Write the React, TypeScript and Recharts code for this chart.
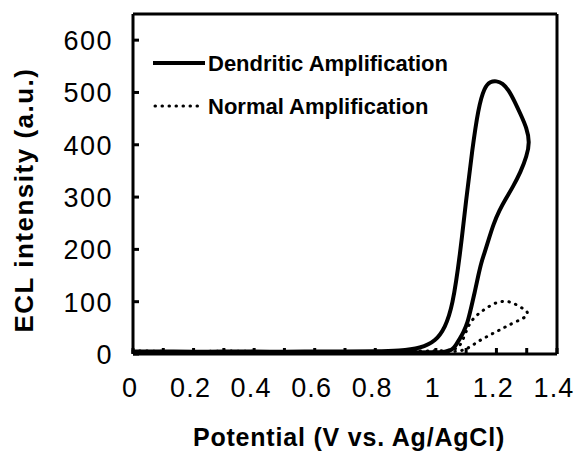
import { LineChart, Line, XAxis, YAxis, ReferenceLine, Legend, Label } from 'recharts'

// ECL intensity vs potential, two cyclic scans (points in scan order)
const dendriticV = [0, 0.1, 0.2, 0.3, 0.4, 0.5, 0.6, 0.7, 0.8, 0.88, 0.95, 1.0, 1.03, 1.055, 1.08, 1.1, 1.12, 1.14, 1.16, 1.18, 1.2, 1.22, 1.24, 1.26, 1.28, 1.3, 1.31, 1.3, 1.28, 1.254, 1.23, 1.21, 1.19, 1.175, 1.16, 1.15, 1.14, 1.128, 1.115, 1.105, 1.09, 1.08, 1.065, 1.055, 1.03, 1.0, 0.9, 0.8, 0.6, 0.4, 0.2, 0]
const dendriticI = [5, 5, 4, 5, 5, 4, 5, 5, 5, 6, 11, 25, 50, 90, 190, 295, 390, 470, 510, 521, 522, 518, 505, 483, 458, 432, 405, 378, 348, 319, 296, 275, 248, 220, 192, 175, 150, 117, 85, 60, 40, 30, 16, 8, 4, 3, 3, 3, 3, 3, 3, 3]

const normalV = [0, 0.1, 0.2, 0.3, 0.4, 0.5, 0.6, 0.7, 0.8, 0.9, 1.0, 1.06, 1.08, 1.095, 1.11, 1.13, 1.15, 1.17, 1.19, 1.21, 1.23, 1.25, 1.27, 1.29, 1.305, 1.3, 1.28, 1.254, 1.23, 1.211, 1.19, 1.168, 1.145, 1.125, 1.105, 1.085, 1.05, 0.9, 0.6, 0.3, 0]
const normalI = [6, 5, 4, 6, 5, 4, 5, 5, 5, 5, 6, 7, 15, 35, 58, 72, 81, 89, 96, 100, 101, 99, 93, 86, 80, 72, 66, 59, 52, 46, 40, 33, 26, 18, 11, 6, 4, 4, 4, 4, 4]

const xTicks = [0, 0.1, 0.2, 0.3, 0.4, 0.5, 0.6, 0.7, 0.8, 0.9, 1.0, 1.1, 1.2, 1.3, 1.4]
const yTicks = [0, 100, 200, 300, 400, 500, 600]

const seriesNames = ['Dendritic Amplification', 'Normal Amplification']

const dendritic = dendriticV.map((v, i) => ({ v, i: dendriticI[i] }))
const normal = normalV.map((v, i) => ({ v, i: normalI[i] }))

const FONT = '"Liberation Sans", Arial, sans-serif'

const YTick = ({ x, y, payload }: any) => (
  <g>
    <line x1={x} y1={y} x2={x + 6} y2={y} stroke="#000" strokeWidth={3} />
    <text x={x - 20} y={y + 10} textAnchor="end" fontSize={27} letterSpacing={1.5} fontFamily={FONT} fill="#000">
      {payload.value}
    </text>
  </g>
)

const XTick = ({ x, y, payload, index }: any) => (
  <g>
    <line x1={x} y1={y} x2={x} y2={y - 6} stroke="#000" strokeWidth={3} />
    {index % 2 === 0 && (
      <text x={x - 3} y={y + 43} textAnchor="middle" fontSize={27} letterSpacing={1.2} fontFamily={FONT} fill="#000">
        {String(Number(payload.value.toFixed(1)))}
      </text>
    )}
  </g>
)

const LegendBox = () => (
  <svg width={330} height={90}>
    <line x1={3} y1={23} x2={55} y2={23} stroke="#000" strokeWidth={4} />
    <text x={58} y={30.5} fontSize={22} fontWeight="bold" fontFamily={FONT} fill="#000">
      {seriesNames[0]}
    </text>
    <line x1={5} y1={66} x2={50} y2={66} stroke="#000" strokeWidth={3} strokeDasharray="0.5 6.5" strokeLinecap="round" />
    <text x={58} y={73.5} fontSize={22} fontWeight="bold" fontFamily={FONT} fill="#000">
      {seriesNames[1]}
    </text>
  </svg>
)

export default function App() {
  return (
    <div style={{ position: 'absolute', left: 0, top: 0, background: '#fff' }}>
      <LineChart width={576} height={457} margin={{ top: 14, right: 19, left: 0, bottom: 0 }}>
        <XAxis
          type="number"
          dataKey="v"
          domain={[0, 1.4]}
          ticks={xTicks}
          interval={0}
          height={103}
          tickLine={false}
          tickSize={0}
          tickMargin={0}
          tick={<XTick />}
          axisLine={{ stroke: '#000', strokeWidth: 3 }}
          allowDuplicatedCategory={false}
        >
          <Label
            content={() => (
              <text x={349} y={446} textAnchor="middle" fontSize={25} fontWeight="bold" letterSpacing={0.8} fontFamily={FONT} fill="#000">
                Potential (V vs. Ag/AgCl)
              </text>
            )}
          />
        </XAxis>
        <YAxis
          type="number"
          dataKey="i"
          domain={[0, 650]}
          ticks={yTicks}
          interval={0}
          width={133}
          tickLine={false}
          tickSize={0}
          tickMargin={0}
          tick={<YTick />}
          axisLine={{ stroke: '#000', strokeWidth: 3 }}
        >
          <Label
            content={() => (
              <text x={33} y={200} transform="rotate(-90 33 200)" textAnchor="middle" fontSize={26} fontWeight="bold" letterSpacing={1.5} fontFamily={FONT} fill="#000">
                ECL intensity (a.u.)
              </text>
            )}
          />
        </YAxis>
        <ReferenceLine y={650} stroke="#000" strokeWidth={3} />
        <ReferenceLine x={1.4} stroke="#000" strokeWidth={3} />
        <Legend
          layout="vertical"
          align="center"
          verticalAlign="middle"
          content={<LegendBox />}
          wrapperStyle={{ left: 150, top: 40, width: 330, height: 90 }}
        />
        <Line
          data={dendritic}
          dataKey="i"
          name={seriesNames[0]}
          type="basis"
          stroke="#000"
          strokeWidth={4}
          dot={false}
          isAnimationActive={false}
        />
        <Line
          data={normal}
          dataKey="i"
          name={seriesNames[1]}
          type="basis"
          stroke="#000"
          strokeWidth={3}
          strokeDasharray="0.5 6.5"
          strokeLinecap="round"
          dot={false}
          isAnimationActive={false}
        />
      </LineChart>
    </div>
  )
}
